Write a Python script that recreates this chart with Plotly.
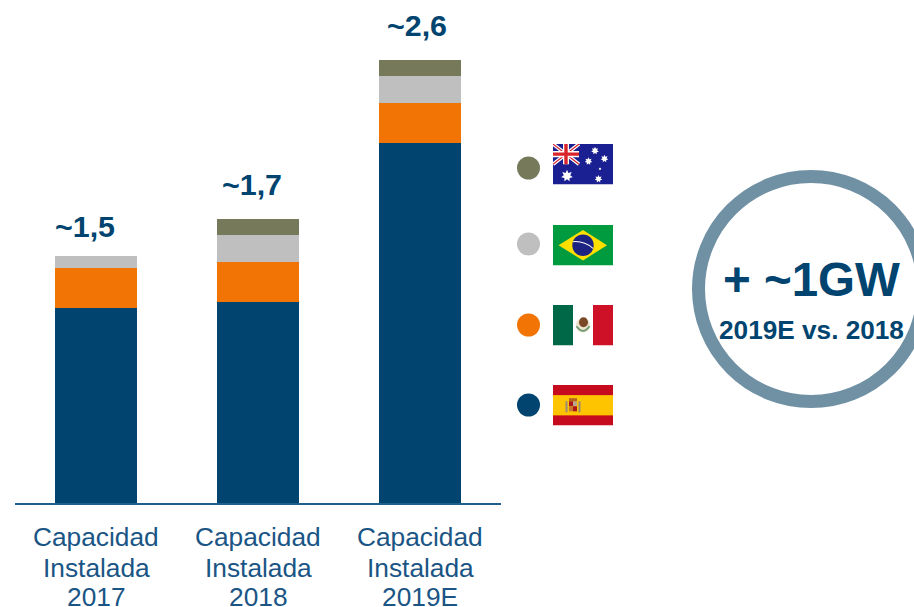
import base64
import math
import plotly.graph_objects as go

years = ["2017", "2018", "2019E"]
label_lines = ["Capacidad", "Instalada"]
countries = ["España", "México", "Brasil", "Australia"]
spain = [1.15, 1.185, 2.12]
mexico = [0.235, 0.235, 0.235]
brazil = [0.07, 0.155, 0.155]
australia = [0, 0.095, 0.095]
totals = ["~1,5", "~1,7", "~2,6"]
colors = ["#00446F", "#F27405", "#BFBFBF", "#76795A"]
navy = "#00446F"
font = "Liberation Sans, Arial, sans-serif"

def star(cx, cy, r, n=7, k=0.55):
    pts = []
    for i in range(2 * n):
        a = -math.pi / 2 + i * math.pi / n
        rr = r if i % 2 == 0 else r * k
        pts.append(f"{cx + rr * math.cos(a):.2f},{cy + rr * math.sin(a):.2f}")
    return f'<polygon fill="#fff" points="{" ".join(pts)}"/>'

au = ('<svg xmlns="http://www.w3.org/2000/svg" width="60" height="40" viewBox="0 0 60 40">'
      '<rect width="60" height="40" fill="#1A1F91"/>'
      '<path d="M0 0L26 20M26 0L0 20" stroke="#fff" stroke-width="3.6"/>'
      '<path d="M0 0L26 20M26 0L0 20" stroke="#D8232A" stroke-width="1.2"/>'
      '<path d="M13 0V20M0 10H26" stroke="#fff" stroke-width="6"/>'
      '<path d="M13 0V20M0 10H26" stroke="#D8232A" stroke-width="3.4"/>'
      + star(14, 31.5, 6) + star(42, 6.7, 3.9) + star(35.5, 17, 3.9) + star(51.5, 14.5, 3.9) + star(45.5, 34.5, 3.9)
      + star(47, 24.5, 1.5, 5) + '</svg>')
br = ('<svg xmlns="http://www.w3.org/2000/svg" width="60" height="40" viewBox="0 0 60 40">'
      '<rect width="60" height="40" fill="#009B3E"/>'
      '<polygon points="5.5,20 30,5 54,20 30,35" fill="#FEDF00"/>'
      '<circle cx="30" cy="20" r="10.7" fill="#1D2380"/>'
      '<path d="M20 16.5Q31 15.5 40 23" stroke="#fff" stroke-width="1" fill="none"/></svg>')
mx = ('<svg xmlns="http://www.w3.org/2000/svg" width="60" height="40" viewBox="0 0 60 40">'
      '<rect width="20" height="40" fill="#006847"/><rect x="20" width="20" height="40" fill="#fff"/>'
      '<rect x="40" width="20" height="40" fill="#CE1126"/>'
      '<circle cx="30" cy="20" r="7.2" fill="#E9E3CF"/>'
      '<ellipse cx="30.5" cy="17" rx="4.5" ry="5" fill="#7A4A28"/>'
      '<path d="M23.5 21Q30 30 36.5 21" stroke="#6E9A72" stroke-width="1.8" fill="none"/></svg>')
es = ('<svg xmlns="http://www.w3.org/2000/svg" width="60" height="40" viewBox="0 0 60 40">'
      '<rect width="60" height="40" fill="#C60B1E"/><rect y="10" width="60" height="20" fill="#FFC400"/>'
      '<rect x="16" y="16" width="4" height="5" fill="#AD1519"/><rect x="20" y="16" width="4" height="5" fill="#B9A58C"/>'
      '<rect x="16" y="21" width="4" height="5" fill="#C8792B"/><rect x="20" y="21" width="4" height="5" fill="#AD1519"/>'
      '<rect x="12.5" y="16" width="2" height="11" fill="#9A8A7A"/><rect x="25.5" y="16" width="2" height="11" fill="#9A8A7A"/>'
      '<rect x="16" y="13" width="8" height="3" fill="#B5651D"/></svg>')
flags = [es, mx, br, au]

def uri(svg):
    return "data:image/svg+xml;base64," + base64.b64encode(svg.encode()).decode()

fig = go.Figure()
for name, vals, c in zip(countries, [spain, mexico, brazil, australia], colors):
    fig.add_trace(go.Bar(x=[0, 1, 2], y=vals, name=name, marker=dict(color=c, line_width=0), width=0.506, showlegend=False))

dot_y = [405, 325, 244, 168]
flag_y = [385, 305, 225, 144]
for name, c, y in zip(countries, colors, dot_y):
    fig.add_trace(go.Scatter(x=[528.5], y=[y], xaxis="x2", yaxis="y2", mode="markers", name=name,
                             marker=dict(size=23, color=c), showlegend=False, hoverinfo="name"))

images = [dict(source=uri(f), xref="x2", yref="y2", x=553, y=y, sizex=60, sizey=40.5, sizing="stretch",
               xanchor="left", yanchor="top", layer="above") for f, y in zip(flags, flag_y)]

ann = []
total_xy = [(84.5, 226), (251.5, 184), (416.5, 25)]
for t, (x, y) in zip(totals, total_xy):
    ann.append(dict(text=f"<b>{t}</b>", x=x, y=y, xref="x2", yref="y2", showarrow=False,
                    font=dict(family=font, size=30.4, color=navy)))
for i, yr in enumerate(years):
    for line, y in zip(label_lines + [yr], [537, 568, 597]):
        ann.append(dict(text=line, x=96 + 162 * i, y=y, xref="x2", yref="y2", showarrow=False,
                        font=dict(family=font, size=26.3, color="#1A5585")))
ann.append(dict(text="<b>+ ~1GW</b>", x=811, y=279, xref="x2", yref="y2", showarrow=False,
                font=dict(family=font, size=47.5, color=navy)))
ann.append(dict(text="<b>2019E vs. 2018</b>", x=811.5, y=330, xref="x2", yref="y2", showarrow=False,
                font=dict(family=font, size=26.2, color=navy)))

fig.update_layout(
    width=914, height=607, margin=dict(l=0, r=0, t=0, b=0),
    paper_bgcolor="white", plot_bgcolor="rgba(0,0,0,0)", barmode="stack", bargap=0,
    xaxis=dict(domain=[15 / 914, 501 / 914], range=[-0.5, 2.5], tickvals=[0, 1, 2], showticklabels=False,
               ticks="", showgrid=False, zeroline=False, showline=True, linecolor="#1F5F8B", linewidth=2, anchor="y"),
    yaxis=dict(domain=[104 / 607, 1], range=[0, 503 / 170], visible=False, showgrid=False, zeroline=False),
    xaxis2=dict(domain=[0, 1], range=[0, 914], visible=False, anchor="y2", fixedrange=True),
    yaxis2=dict(domain=[0, 1], range=[607, 0], visible=False, anchor="x2", fixedrange=True),
    images=images, annotations=ann,
    shapes=[dict(type="circle", xref="x2", yref="y2", x0=698.5, x1=923.5, y0=176.5, y1=401.5,
                 line=dict(color="#7090A4", width=13), fillcolor="rgba(0,0,0,0)", layer="below")],
)
fig.write_html("out.html", config=dict(displayModeBar=False),
               post_script="document.body.style.margin='0';document.body.style.overflow='hidden';")
